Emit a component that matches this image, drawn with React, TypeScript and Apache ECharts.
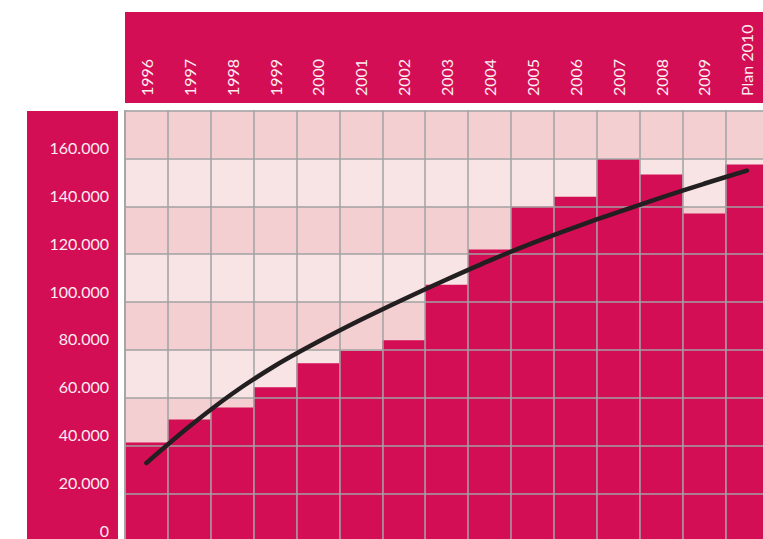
import React, { useEffect, useRef } from "react";
import * as echarts from "echarts";

const categories = ["1996", "1997", "1998", "1999", "2000", "2001", "2002", "2003", "2004", "2005", "2006", "2007", "2008", "2009", "Plan 2010"];
const barValues = [41300, 51000, 56000, 64400, 74400, 79700, 84000, 107200, 122000, 139800, 144000, 159700, 153300, 137000, 157500];
const trendValues = [32800, 48000, 61700, 73400, 83400, 92600, 101200, 109400, 117300, 124600, 131300, 137600, 143600, 149400, 154900];
const yMin = 0;
const yMax = 180000;
const yStep = 20000;

const MAGENTA = "#d40e54";
const BAND_DARK = "#f4cfd1";
const BAND_LIGHT = "#f8e4e5";
const GRID_GREY = "#a2a2a2";
const LABEL = "#fcecf1";
const FONT = "Lato, 'Open Sans', sans-serif";

const fmt = (v: number) =>
  v >= yMax ? "" : String(v).replace(/\B(?=(\d{3})+(?!\d))/g, ".");

export default function App() {
  const ref = useRef<HTMLDivElement>(null);
  useEffect(() => {
    if (!ref.current) return;
    const chart = echarts.init(ref.current, undefined, { renderer: "svg" });
    chart.setOption({
      animation: false,
      backgroundColor: "#ffffff",
      graphic: [
        { type: "rect", z: 0, shape: { x: 125, y: 12, width: 640, height: 91 }, style: { fill: MAGENTA } },
        { type: "rect", z: 0, shape: { x: 27, y: 111, width: 91, height: 430 }, style: { fill: MAGENTA } },
      ],
      grid: { left: 125, top: 110.5, right: -5.3, bottom: -2.5, containLabel: false, outerBoundsMode: "none" },
      xAxis: [
        {
          type: "category",
          data: categories,
          position: "top",
          z: 5,
          boundaryGap: true,
          axisLine: { show: true, lineStyle: { color: GRID_GREY, width: 1.5 } },
          axisTick: { show: false },
          splitLine: { show: true, lineStyle: { color: GRID_GREY, width: 1.5 } },
          axisLabel: {
            rotate: 90,
            margin: 14.5,
            interval: 0,
            color: LABEL,
            fontFamily: FONT,
            fontSize: 16,
          },
        },
      ],
      yAxis: [
        {
          type: "value",
          min: yMin,
          max: yMax,
          interval: yStep,
          z: 0,
          axisLine: { show: false },
          axisTick: { show: false },
          axisLabel: { show: false },
          splitLine: { show: false },
          splitArea: { show: true, areaStyle: { color: [BAND_DARK, BAND_LIGHT] } },
        },
        {
          type: "value",
          min: yMin,
          max: yMax,
          interval: yStep,
          position: "left",
          z: 5,
          axisLine: { show: true, lineStyle: { color: GRID_GREY, width: 1.5 } },
          axisTick: { show: false },
          splitArea: { show: false },
          splitLine: { show: true, lineStyle: { color: GRID_GREY, width: 1.5 } },
          axisLabel: {
            formatter: fmt,
            margin: 16,
            color: LABEL,
            fontFamily: FONT,
            fontSize: 16,
            verticalAlign: "bottom",
            lineHeight: 22,
          },
        },
      ],
      series: [
        {
          type: "bar",
          data: barValues,
          xAxisIndex: 0,
          yAxisIndex: 0,
          barWidth: "100%",
          barCategoryGap: 0,
          z: 2,
          itemStyle: { color: MAGENTA },
        },
        {
          type: "line",
          data: trendValues,
          xAxisIndex: 0,
          yAxisIndex: 1,
          smooth: 0.3,
          symbol: "none",
          z: 10,
          lineStyle: { color: "#231f20", width: 4.5, cap: "round" },
        },
      ],
    });
    return () => chart.dispose();
  }, []);
  return (
    <div
      ref={ref}
      style={{ position: "fixed", left: 0, top: 0, width: 763, height: 539 }}
    />
  );
}
